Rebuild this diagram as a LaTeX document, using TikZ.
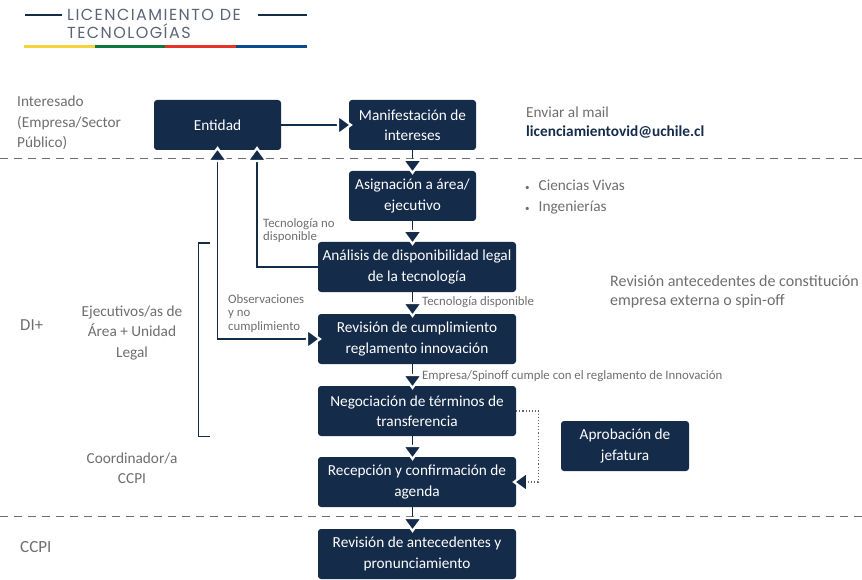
\documentclass[tikz,border=0pt]{standalone}
\usepackage{fontspec}
\setmainfont{Carlito}
\newfontfamily\headfont{Poppins}[LetterSpace=9]
\usetikzlibrary{arrows.meta}
\definecolor{navy}{HTML}{142B4A}
\definecolor{lanegray}{HTML}{6E6E6E}
\definecolor{dotgray}{HTML}{5E6470}
\definecolor{headgray}{HTML}{5B6579}
\definecolor{bary}{HTML}{F9D33C}
\definecolor{barg}{HTML}{0C7A3E}
\definecolor{barr}{HTML}{E5332A}
\definecolor{barb}{HTML}{0B4A8E}
\begin{document}
\begin{tikzpicture}[x=1pt,y=-1pt,
  box/.style={fill=navy, rounded corners=3pt, text=white, align=center,
    font=\fontsize{15.3}{20.5}\selectfont, inner sep=0pt, minimum height=50pt},
  lane/.style={text=lanegray, font=\fontsize{15.3}{20.5}\selectfont, inner sep=0pt},
  small/.style={text=lanegray, font=\fontsize{12.8}{13.5}\selectfont, inner sep=0pt, align=left, anchor=west},
  conn/.style={draw=navy, line width=1.1pt},
  arr/.style={conn, -{Triangle[width=23pt,length=16pt,color=white,fill=navy,line width=2.2pt]}, shorten >=-4pt},
  arrboth/.style={conn, {Triangle[width=23pt,length=16pt,color=white,fill=navy,line width=2.2pt]}-{Triangle[width=23pt,length=16pt,color=white,fill=navy,line width=2.2pt]}, shorten >=-4pt, shorten <=-4pt},
  sep/.style={draw=lanegray, line width=1pt, dash pattern=on 8pt off 6pt},
]
\useasboundingbox (0,0) rectangle (862,580);

% header
\draw[navy, line width=2pt] (25,15) -- (62,15);
\draw[navy, line width=2pt] (258,15) -- (307,15);
\node[anchor=west, inner sep=0pt, text=headgray, font=\headfont\fontsize{16}{18}\selectfont, align=left] (title) at (67,24) {LICENCIAMIENTO DE\\TECNOLOGÍAS};
\draw[bary, line width=3pt] (24,47) -- (95,47);
\draw[barg, line width=3pt] (95,47) -- (165,47);
\draw[barr, line width=3pt] (165,47) -- (236,47);
\draw[barb, line width=3pt] (236,47) -- (307,47);

% separators
\draw[sep] (0,159) -- (862,159);
\draw[sep] (0,516) -- (862,516);

% boxes
\node[box, minimum width=127pt] (ent) at (217.5,125) {Entidad};
\node[box, minimum width=127pt] (man) at (412.5,125) {Manifestación de\\intereses};
\node[box, minimum width=127pt] (asi) at (412.5,196) {Asignación a área/\\ejecutivo};
\node[box, minimum width=198pt] (ana) at (417,267) {Análisis de disponibilidad legal\\de la tecnología};
\node[box, minimum width=198pt] (rev) at (417,339) {Revisión de cumplimiento\\reglamento innovación};
\node[box, minimum width=198pt] (neg) at (417,411) {Negociación de términos de\\transferencia};
\node[box, minimum width=198pt] (rec) at (417,482) {Recepción y confirmación de\\agenda};
\node[box, minimum width=198pt] (ant) at (417,554) {Revisión de antecedentes y\\pronunciamiento};
\node[box, minimum width=128pt] (apr) at (625,446) {Aprobación de\\jefatura};

% lane texts
\node[lane, anchor=west, align=left] (int) at (17,123) {Interesado\\(Empresa/Sector\\Público)};
\node[lane, anchor=west, font=\fontsize{16.8}{18}\selectfont] (di) at (20,325) {DI+};
\node[lane, align=center] (eje) at (132,333) {Ejecutivos/as de\\Área + Unidad\\Legal};
\node[lane, align=center] (coo) at (132,468) {Coordinador/a\\CCPI};
\node[lane, anchor=west, font=\fontsize{17}{18}\selectfont] (ccpi) at (20,547) {CCPI};

% right texts
\node[lane, anchor=west, align=left, font=\fontsize{15.3}{19}\selectfont] (mail) at (526,122.5) {Enviar al mail\\\textcolor{navy}{\bfseries licenciamientovid@uchile.cl}};
\node[lane, anchor=west, align=left] (areas) at (525,197) {{\small•}\hspace{9pt}Ciencias Vivas\\{\small•}\hspace{9pt}Ingenierías};
\node[lane, anchor=west, align=left, font=\fontsize{16}{19}\selectfont] (cons) at (610,291.5) {Revisión antecedentes de constitución\\empresa externa o spin-off};

% bracket
\draw[navy, line width=1pt] (210,243) -| (198,436) -- (210,436);

% main flow
\draw[arr] (ent.east) -- (man.west);
\draw[arr] (man.south) -- (asi.north);
\draw[arr] (asi.south) -- (asi.south |- ana.north);
\draw[arr] (ana.south -| asi.south) -- (rev.north -| asi.south);
\draw[arr] (rev.south -| asi.south) -- (neg.north -| asi.south);
\draw[arr] (neg.south -| asi.south) -- (rec.north -| asi.south);
\draw[arr] (rec.south -| asi.south) -- (ant.north -| asi.south);

% feedback
\draw[arr] (ana.west) -| ([xshift=39.5pt]ent.south);
\draw[arrboth] (ent.south) |- (rev.west);
\draw[arr, draw=dotgray, dotted] (neg.east) -- ++(22,0) |- (rec.east);

% connector labels
\node[small] (l1) at (263,230.5) {Tecnología no\\disponible};
\node[small] (l2) at (228,313.5) {Observaciones\\y no\\cumplimiento};
\node[small] (l3) at (422,302) {Tecnología disponible};
\node[small] (l4) at (422,376) {Empresa/Spinoff cumple con el reglamento de Innovación};
\end{tikzpicture}
\end{document}
